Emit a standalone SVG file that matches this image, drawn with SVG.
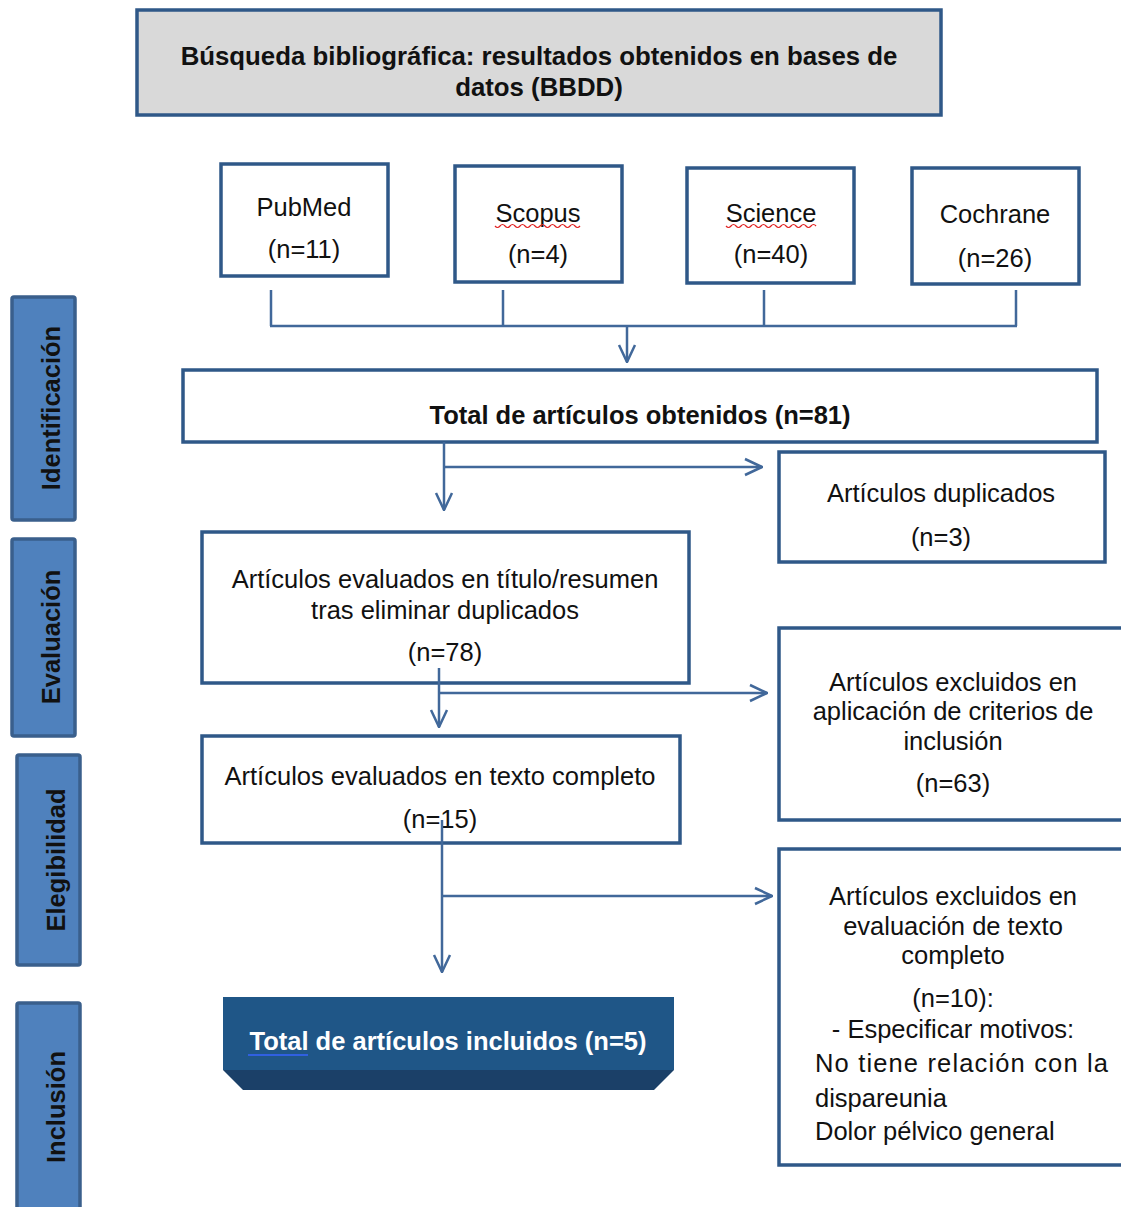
<svg xmlns="http://www.w3.org/2000/svg" width="1121" height="1207" viewBox="0 0 1121 1207">
<defs>
<marker id="arr2" viewBox="0 0 20 20" refX="19" refY="10" markerWidth="20" markerHeight="20" markerUnits="userSpaceOnUse" orient="auto">
<path d="M2,2 L19,10 L2,18" fill="none" stroke="#41689a" stroke-width="2.5"/>
</marker>
</defs>
<style>
.box{fill:#fff;stroke:#2f5888;stroke-width:3.5}
.side{fill:#4f81bd;stroke:#3a5f8c;stroke-width:3.5}
.t{font-family:"Liberation Sans",Arial,sans-serif;font-size:25.5px;fill:#111;text-anchor:middle}
.l{text-anchor:start}
.b{font-weight:bold}
.tt{font-size:25.8px}
.st{font-family:"Liberation Sans",Arial,sans-serif;font-size:25.5px;font-weight:bold;fill:#111;text-anchor:middle}
.w{fill:#fff}
.c{fill:none;stroke:#41689a;stroke-width:2.5}
.sq{fill:none;stroke:#e02020;stroke-width:1.2}
</style>
<rect width="1121" height="1207" fill="#fff"/>

<g id="title">
<rect x="137" y="10" width="804" height="105" fill="#d9d9d9" stroke="#2f5888" stroke-width="3.5"/>
<text class="t b tt" x="539" y="65">Búsqueda bibliográfica: resultados obtenidos en bases de</text>
<text class="t b tt" x="539" y="96">datos (BBDD)</text>
</g>

<g id="side-identificacion">
<rect class="side" x="12" y="297" width="63" height="223" rx="2"/>
<text class="st" transform="translate(60,408) rotate(-90)">Identificación</text>
</g>
<g id="side-evaluacion">
<rect class="side" x="12" y="539" width="63" height="197" rx="2"/>
<text class="st" transform="translate(60,637) rotate(-90)">Evaluación</text>
</g>
<g id="side-elegibilidad">
<rect class="side" x="17" y="755" width="63" height="210" rx="2"/>
<text class="st" transform="translate(65,860) rotate(-90)">Elegibilidad</text>
</g>
<g id="side-inclusion">
<rect class="side" x="17" y="1003" width="63" height="215" rx="2"/>
<text class="st" transform="translate(65,1107) rotate(-90)">Inclusión</text>
</g>

<g id="pubmed">
<rect class="box" x="221" y="164" width="167" height="112"/>
<text class="t" x="304" y="216">PubMed</text>
<text class="t" x="304" y="258">(n=11)</text>
</g>
<g id="scopus">
<rect class="box" x="455" y="166" width="167" height="116"/>
<text class="t" x="538" y="222">Scopus</text>
<path class="sq" d="M495,226 q2.5,3 5,0 t5,0 t5,0 t5,0 t5,0 t5,0 t5,0 t5,0 t5,0 t5,0 t5,0 t5,0 t5,0 t5,0 t5,0 t5,0 t5,0"/>
<text class="t" x="538" y="263">(n=4)</text>
</g>
<g id="science">
<rect class="box" x="687" y="168" width="167" height="115"/>
<text class="t" x="771" y="222">Science</text>
<path class="sq" d="M726,226 q2.5,3 5,0 t5,0 t5,0 t5,0 t5,0 t5,0 t5,0 t5,0 t5,0 t5,0 t5,0 t5,0 t5,0 t5,0 t5,0 t5,0 t5,0 t5,0"/>
<text class="t" x="771" y="263">(n=40)</text>
</g>
<g id="cochrane">
<rect class="box" x="912" y="168" width="167" height="116"/>
<text class="t" x="995" y="223">Cochrane</text>
<text class="t" x="995" y="267">(n=26)</text>
</g>

<g id="total">
<rect class="box" x="183" y="370" width="914" height="72"/>
<text class="t b" x="640" y="424">Total de artículos obtenidos (n=81)</text>
</g>

<g id="duplicados">
<rect class="box" x="779" y="452" width="326" height="110"/>
<text class="t" x="941" y="502">Artículos duplicados</text>
<text class="t" x="941" y="546">(n=3)</text>
</g>

<g id="evaluados">
<rect class="box" x="202" y="532" width="487" height="151"/>
<text class="t" x="445" y="588">Artículos evaluados en título/resumen</text>
<text class="t" x="445" y="619">tras eliminar duplicados</text>
<text class="t" x="445" y="661">(n=78)</text>
</g>

<g id="excluidos1">
<rect class="box" x="779" y="628" width="350" height="192"/>
<text class="t" x="953" y="691">Artículos excluidos en</text>
<text class="t" x="953" y="720">aplicación de criterios de</text>
<text class="t" x="953" y="750">inclusión</text>
<text class="t" x="953" y="792">(n=63)</text>
</g>

<g id="texto-completo">
<rect class="box" x="202" y="736" width="478" height="107"/>
<text class="t" x="440" y="785">Artículos evaluados en texto completo</text>
<text class="t" x="440" y="828">(n=15)</text>
</g>

<g id="excluidos2">
<rect class="box" x="779" y="849" width="350" height="316"/>
<text class="t" x="953" y="905">Artículos excluidos en</text>
<text class="t" x="953" y="935">evaluación de texto</text>
<text class="t" x="953" y="964">completo</text>
<text class="t" x="953" y="1007">(n=10):</text>
<text class="t" x="953" y="1038">- Especificar motivos:</text>
<text class="t l" x="815" y="1072" textLength="293" lengthAdjust="spacing">No tiene relación con la</text>
<text class="t l" x="815" y="1107">dispareunia</text>
<text class="t l" x="815" y="1140">Dolor pélvico general</text>
</g>

<g id="incluidos">
<polygon points="223,1070 674,1070 654,1090 243,1090" fill="#1b4068"/>
<rect x="223" y="997" width="451" height="73" fill="#1f5687"/>
<text class="t b w" x="448" y="1050">Total de artículos incluidos (n=5)</text>
<path d="M248,1055 L308,1055" stroke="#3060e0" stroke-width="2" fill="none"/>
</g>

<g id="connectors">
<path class="c" d="M271,290 V326 M503,290 V326 M764,290 V326 M1016,290 V326 M270,326 H1017"/>
<path class="c" d="M627,326 V362" marker-end="url(#arr2)"/>
<path class="c" d="M444,442 V510" marker-end="url(#arr2)"/>
<path class="c" d="M444,467 H762" marker-end="url(#arr2)"/>
<path class="c" d="M439,668 V727" marker-end="url(#arr2)"/>
<path class="c" d="M439,693 H767" marker-end="url(#arr2)"/>
<path class="c" d="M442,820 V972" marker-end="url(#arr2)"/>
<path class="c" d="M442,896 H772" marker-end="url(#arr2)"/>
</g>
</svg>
